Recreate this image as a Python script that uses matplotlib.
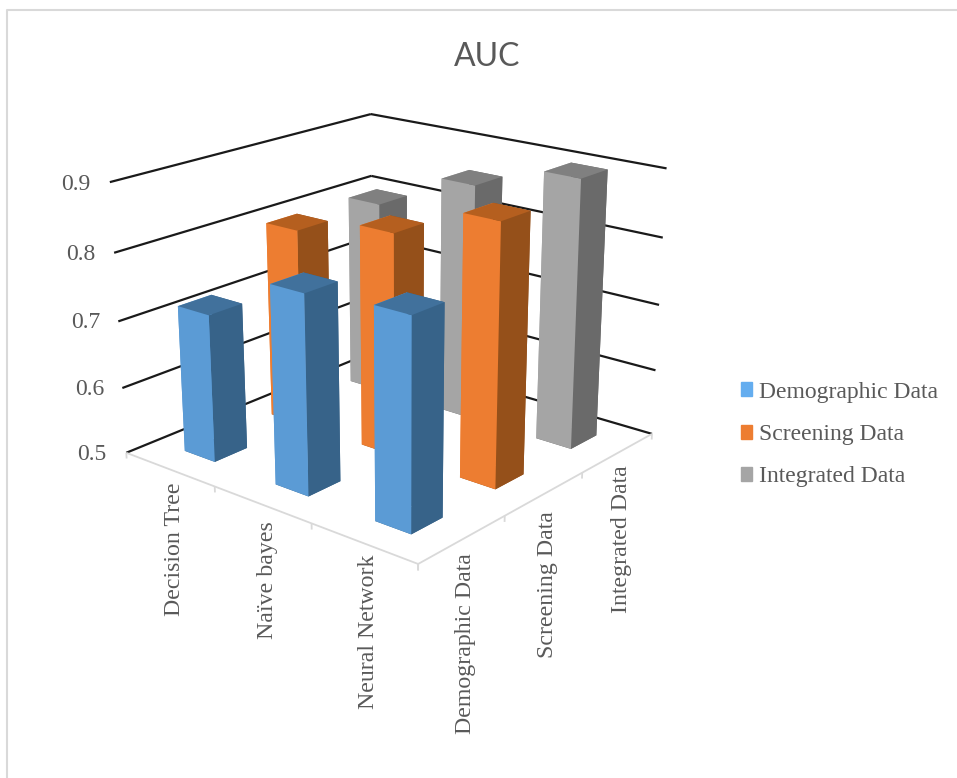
import numpy as np
import matplotlib
matplotlib.use('Agg')
import matplotlib.pyplot as plt
from matplotlib.lines import Line2D
from matplotlib.patches import Patch
from mpl_toolkits.mplot3d.art3d import Line3DCollection

categories = ['Decision Tree', 'Naïve bayes', 'Neural Network']
series_names = ['Demographic Data', 'Screening Data', 'Integrated Data']
demographic = [0.72, 0.79, 0.80]
screening = [0.80, 0.83, 0.88]
integrated = [0.80, 0.86, 0.90]
z_ticks = [0.5, 0.6, 0.7, 0.8, 0.9]

W, H = 957, 778
TEXT = '#595959'
SERIF = 'Liberation Serif'

# front, side and top shades of each series
shades = [('#5B9BD5', '#376389', '#41719C'),
          ('#ED7D31', '#95501A', '#B55F1F'),
          ('#A5A5A5', '#6A6A6A', '#808080')]
legend_colors = ['#64ADEF', '#ED7D31', '#A5A5A5']

BAR_DX, BAR_DY = 0.34, 0.36
X_OFF, Y_OFF = 0.33, 0.325


def fit_camera(world, pixels):
    # least squares camera matrix from (x, y, z) -> pixel pairs
    rows = []
    for (x, y, z), (u, v) in zip(world, pixels):
        p = [x, y, z, 1]
        rows.append(p + [0, 0, 0, 0] + [-u * c for c in p])
        rows.append([0, 0, 0, 0] + p + [-v * c for c in p])
    _, _, vt = np.linalg.svd(np.array(rows, dtype=float))
    return vt[-1].reshape(3, 4)


fig = plt.figure(figsize=(W / 100, H / 100), dpi=100)
# square axes as wide as the figure, mplot3d forces a square box anyway
ax = fig.add_axes([0, -(W - H) / 2 / H, 1, W / H], projection='3d',
                  computed_zorder=False)
ax.set_axis_off()

# where the box corners of the plot sit on the canvas
anchors = [((0, 0, .9), (110, 182)), ((0, 0, .8), (114, 253)), ((0, 0, .7), (118, 321)),
           ((0, 0, .6), (122, 388)), ((0, 0, .5), (127, 453)),
           ((0, 3, .9), (371, 114)), ((0, 3, .8), (371, 176)),
           ((3, 3, .9), (666, 169)), ((3, 3, .8), (663, 238)), ((3, 3, .7), (660, 304)),
           ((3, 3, .6), (656, 369)), ((3, 3, .5), (651, 435)),
           ((3, 0, .5), (418, 564))]
x0, x1 = ax.viewLim.intervalx
y0, y1 = ax.viewLim.intervaly
view_pts = [(x0 + (px / W) * (x1 - x0),
             y0 + ((H + (W - H) / 2 - py) / W) * (y1 - y0)) for _, (px, py) in anchors]
P = fit_camera([a[0] for a in anchors], view_pts)
if (P[2] @ np.array([1.5, 1.5, 0.7, 1])) < 0:
    P = -P
mid_w = P[2] @ np.array([1.5, 1.5, 0.7, 1])
depth_row = P[2] - np.array([0, 0, 0, mid_w / 2])
M = np.vstack([P[0], P[1], depth_row, P[2]])
ax.get_proj = lambda: M

# wall grid lines
wall_segs = []
for z in z_ticks:
    wall_segs.append([(0, 0, z), (0, 3, z)])
    wall_segs.append([(0, 3, z), (3, 3, z)])
ax.add_collection3d(Line3DCollection(wall_segs, colors='#1a1a1a', linewidths=1.6, zorder=2))

# floor edges and tick marks
floor_segs = [[(0, 0, 0.5), (3, 0, 0.5)], [(3, 0, 0.5), (3, 3, 0.5)]]
for i in range(4):
    floor_segs.append([(i, 0, 0.5), (i, 0, 0.491)])
    floor_segs.append([(3, i, 0.5), (3, i, 0.491)])
ax.add_collection3d(Line3DCollection(floor_segs, colors='#D9D9D9', linewidths=1.3, zorder=2.5))

# bars, far ones first
for s, values in enumerate([demographic, screening, integrated]):
    front, side, top = shades[s]
    for c, val in enumerate(values):
        bar = ax.bar3d([c + X_OFF], [s + Y_OFF], [0.5], BAR_DX, BAR_DY, val - 0.5,
                       color=[side, top, front, side, front, side],
                       shade=False, linewidth=0)
        bar.set_zorder(10 + c - s)


def canvas_text(px, py, s, **kw):
    fig.text(px / W, 1 - py / H, s, color=TEXT, **kw)


canvas_text(487, 57, 'AUC', family='Lato', fontsize=23, ha='center', va='center')

tick_pos = [(106, 455), (104, 390), (100, 322), (95, 254), (90, 185)]
for (px, py), z in zip(tick_pos, z_ticks):
    canvas_text(px, py, f'{z:.1f}', family=SERIF, fontsize=17, ha='right', va='center')

# rotated axis labels
cat_pos = [(174, 483), (267, 521), (369, 555)]
for (px, py), name in zip(cat_pos, categories):
    canvas_text(px, py, name, family=SERIF, fontsize=17.2, rotation=90, ha='center', va='top')
ser_pos = [(466, 553), (548, 511), (621, 465)]
for (px, py), name in zip(ser_pos, series_names):
    canvas_text(px, py, name, family=SERIF, fontsize=17.2, rotation=90, ha='center', va='top')

handles = [Patch(color=c, label=n) for c, n in zip(legend_colors, series_names)]
fig.legend(handles=handles, loc='upper left', bbox_to_anchor=(736 / W, 1 - 377 / H),
           frameon=False, labelcolor=TEXT, prop={'family': SERIF, 'size': 17},
           handlelength=0.48, handleheight=0.55, handletextpad=0.3, labelspacing=0.9,
           borderpad=0.2, borderaxespad=0)

# thin frame around the chart area
fig.add_artist(Line2D([7.5 / W, 7.5 / W, 1], [0, 1 - 10 / H, 1 - 10 / H],
                      color='#D9D9D9', lw=1.5, transform=fig.transFigure))

fig.savefig('out.png', dpi=100)
